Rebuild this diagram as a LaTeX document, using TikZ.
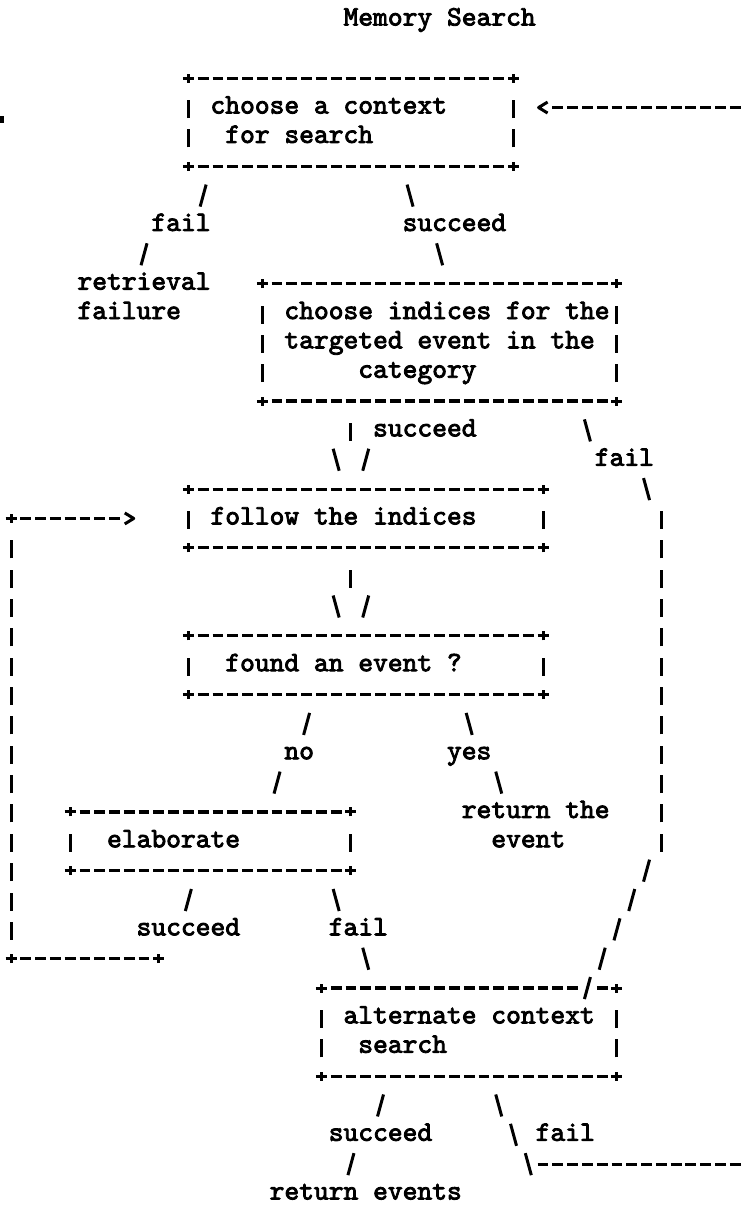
\documentclass[tikz,border=0pt]{standalone}
\usepackage{fontspec}
\newfontfamily\tw{lmmono10-regular.otf}[FakeBold=3]

% character grid of the typed chart: column pitch, row pitch, origin
\def\hp{14.78}
\def\vp{29.35}
\def\xo{11}
\def\yo{19.5}
\newcommand\gx[1]{(\xo+\hp*(#1))}
\newcommand\gy[1]{(-\yo-\vp*(#1))}

% typed text, one node per word group
\newcommand\tx[3]{\node[txt] (t#1-#2) at ({\gx{#2}-\hp/2},{\gy{#1}-6}) {#3};}
% run of dashes over cells a..b in row r
\newcommand\dashes[3]{\draw[dashrun] ({\gx{#2}-5.4},{\gy{#1}}) -- ({\gx{#3}+5.4},{\gy{#1}});}
% plus sign
\newcommand\crs[2]{\draw[glyph] ({\gx{#2}-5.5},{\gy{#1}}) -- ({\gx{#2}+5.5},{\gy{#1}})
  ({\gx{#2}},{\gy{#1}-4.5}) -- ({\gx{#2}},{\gy{#1}+4.5});}
% box edge: +-----+
\newcommand\border[3]{\crs{#1}{#2}\crs{#1}{#3}\dashes{#1}{#2+1}{#3-1}}
% vertical bar
\newcommand\vb[2]{\draw[glyph] ({\gx{#2}},{\gy{#1}-10.5}) -- ({\gx{#2}},{\gy{#1}+7.5});}
\newcommand\vrun[3]{\foreach \rr in {#2,...,#3} {\vb{\rr}{#1}}}
% slash and backslash
\newcommand\fsl[2]{\draw[glyph] ({\gx{#2}-3},{\gy{#1}-11}) -- ({\gx{#2}+3},{\gy{#1}+11});}
\newcommand\bsl[2]{\draw[glyph] ({\gx{#2}-3},{\gy{#1}+11}) -- ({\gx{#2}+3},{\gy{#1}-11});}
% arrow heads < and >
\newcommand\ltip[2]{\draw[glyph,line join=round] ({\gx{#2}+4.5},{\gy{#1}+5.5}) -- ({\gx{#2}-4.5},{\gy{#1}}) -- ({\gx{#2}+4.5},{\gy{#1}-5.5});}
\newcommand\rtip[2]{\draw[glyph,line join=round] ({\gx{#2}-4.5},{\gy{#1}+5.5}) -- ({\gx{#2}+4.5},{\gy{#1}}) -- ({\gx{#2}-4.5},{\gy{#1}-5.5});}

\begin{document}
\begin{tikzpicture}[x=1pt,y=1pt,
  txt/.style={anchor=base west, inner sep=0pt, outer sep=0pt,
    font=\tw\fontsize{28.15}{30}\selectfont},
  dashrun/.style={line width=3.2pt, dash pattern=on 10.8pt off 3.98pt},
  glyph/.style={line width=3pt},
]
\path[use as bounding box] (0,0) rectangle (744,-1209);
\clip (0,0) rectangle (744,-1209);

\tx{0}{23}{Memory Search}

% choose a context
\border{2}{12}{34}
\vb{3}{12} \tx{3}{14}{choose a context} \vb{3}{34}
\ltip{3}{36} \dashes{3}{37}{50}
\vb{4}{12} \tx{4}{15}{for search} \vb{4}{34}
\border{5}{12}{34}
\fill (0,-116.5) rectangle (3.5,-123.5);

\fsl{6}{13} \bsl{6}{27}
\tx{7}{10}{fail} \tx{7}{27}{succeed}
\fsl{8}{9} \bsl{8}{29}

% choose indices
\tx{9}{5}{retrieval} \border{9}{17}{41}
\tx{10}{5}{failure}
\vb{10}{17} \tx{10}{19}{choose indices for the} \vb{10}{41}
\vb{11}{17} \tx{11}{19}{targeted event in the} \vb{11}{41}
\vb{12}{17} \tx{12}{24}{category} \vb{12}{41}
\border{13}{17}{41}

\vb{14}{23} \tx{14}{25}{succeed} \bsl{14}{39}
\bsl{15}{22} \fsl{15}{24} \tx{15}{40}{fail}
\bsl{16}{43}

% follow the indices
\border{16}{12}{36}
\crs{17}{0} \dashes{17}{1}{7} \rtip{17}{8}
\vb{17}{12} \tx{17}{14}{follow the indices} \vb{17}{36}
\border{18}{12}{36}
\vrun{44}{17}{28}
\vrun{0}{18}{31}

\vb{19}{23}
\bsl{20}{22} \fsl{20}{24}

% found an event ?
\border{21}{12}{36}
\vb{22}{12} \tx{22}{15}{found an event ?} \vb{22}{36}
\border{23}{12}{36}

\fsl{24}{20} \bsl{24}{31}
\tx{25}{19}{no} \tx{25}{30}{yes}
\fsl{26}{18} \bsl{26}{33}

% elaborate
\border{27}{4}{23} \tx{27}{31}{return the}
\vb{28}{4} \tx{28}{7}{elaborate} \vb{28}{23} \tx{28}{33}{event}
\border{29}{4}{23}
\fsl{29}{43}
\fsl{30}{12} \bsl{30}{22} \fsl{30}{42}
\tx{31}{9}{succeed} \tx{31}{22}{fail} \fsl{31}{41}
\crs{32}{0} \dashes{32}{1}{9} \crs{32}{10}
\bsl{32}{24} \fsl{32}{40}

% alternate context search
\crs{33}{21} \dashes{33}{22}{38} \fsl{33}{39} \dashes{33}{40}{40} \crs{33}{41}
\vb{34}{21} \tx{34}{23}{alternate context} \vb{34}{41}
\vb{35}{21} \tx{35}{24}{search} \vb{35}{41}
\border{36}{21}{41}

\fsl{37}{25} \bsl{37}{33}
\tx{38}{22}{succeed} \bsl{38}{34} \tx{38}{36}{fail}
\fsl{39}{23} \bsl{39}{35} \dashes{39}{36}{50}
\tx{40}{18}{return events}
\end{tikzpicture}
\end{document}
